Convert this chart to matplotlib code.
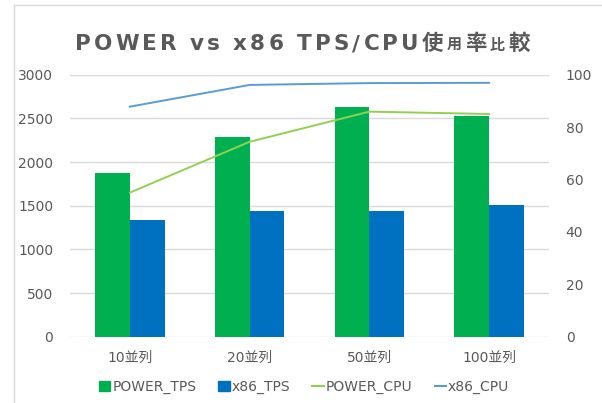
import matplotlib
matplotlib.use("Agg")
import matplotlib.pyplot as plt
import numpy as np
from matplotlib.lines import Line2D
from matplotlib.patches import Patch

plt.rcParams['font.family'] = ['DejaVu Sans', 'Noto Sans CJK JP']

categories = ['10並列', '20並列', '50並列', '100並列']
power_tps = [1875, 2290, 2625, 2525]
x86_tps = [1335, 1440, 1440, 1505]
power_cpu = [55.0, 74.4, 85.9, 85.0]
x86_cpu = [87.8, 96.1, 96.8, 96.9]
title = 'POWER vs x86 TPS/CPU使用率比較'

green = '#00B050'
blue = '#0070C0'
lgreen = '#92D050'
lblue = '#5B9BD5'
gray = '#595959'

fig = plt.figure(figsize=(6.02, 4.03), dpi=100)
ax = fig.add_axes([70/602, 1-336.7/403, 479/602, 262/403])
x = np.arange(len(categories))
w = 0.29
ax.bar(x - w/2, power_tps, w, color=green, zorder=3)
ax.bar(x + w/2, x86_tps, w, color=blue, zorder=3)
ax.set_xlim(-0.5, 3.5)
ax.set_ylim(0, 3000)
ax.set_yticks(range(0, 3001, 500))
ax.grid(axis='y', color='#D9D9D9', linewidth=1, zorder=0)
for s in ax.spines.values():
    s.set_visible(False)
ax.set_xticks(x)
ax.set_xticklabels(categories)
ax.tick_params(axis='y', length=0, colors=gray, labelsize=10, pad=12)
ax.tick_params(axis='x', length=0, colors=gray, labelsize=10, pad=10)

ax2 = ax.twinx()
ax2.plot(x, power_cpu, color=lgreen, linewidth=1.4, zorder=4)
ax2.plot(x, x86_cpu, color=lblue, linewidth=1.4, zorder=4)
ax2.set_ylim(0, 100)
ax2.set_yticks(range(0, 101, 20))
for s in ax2.spines.values():
    s.set_visible(False)
ax2.tick_params(axis='y', length=0, colors=gray, labelsize=10, pad=12)

# Letter-spaced title
fig.canvas.draw()
renderer = fig.canvas.get_renderer()
small = {'用', '比'}
tsize = 15.5
spacing = 3.2  # px extra per char
pieces = []
for ch in title:
    fs = tsize * 0.7 if ch in small else tsize
    t = fig.text(0, 0, ch, fontsize=fs, fontweight='bold', color=gray,
                 ha='left', va='baseline',
                 family=['DejaVu Sans', 'Noto Sans CJK JP'] if not ('\u3000' <= ch <= '\u9fff') else ['Noto Sans CJK JP'])
    if ch == ' ':
        wpx = tsize * 100 / 72 * 0.32
    else:
        wpx = t.get_window_extent(renderer).width
    pieces.append((t, wpx))
total = sum(p[1] for p in pieces) + spacing * (len(pieces) - 1)
cx = 302 - total / 2
base_y = 1 - 50 / 403
for t, wpx in pieces:
    t.set_position((cx / 602, base_y))
    cx += wpx + spacing

handles = [Patch(color=green), Patch(color=blue),
           Line2D([], [], color=lgreen, linewidth=1.5),
           Line2D([], [], color=lblue, linewidth=1.5)]
labels = ['POWER_TPS', 'x86_TPS', 'POWER_CPU', 'x86_CPU']
leg = fig.legend(handles, labels, loc='center', bbox_to_anchor=(0.505, 1-387/403), ncol=4,
                 frameon=False, fontsize=10, handlelength=0.8, handletextpad=0.15,
                 columnspacing=1.6, labelcolor=gray)

fig.add_artist(Line2D([14/602, 14/602], [0, 1-5/403], color='#D9D9D9', linewidth=1))
fig.add_artist(Line2D([14/602, 1], [1-5/403, 1-5/403], color='#D9D9D9', linewidth=1))

fig.savefig('out.png', dpi=100)
